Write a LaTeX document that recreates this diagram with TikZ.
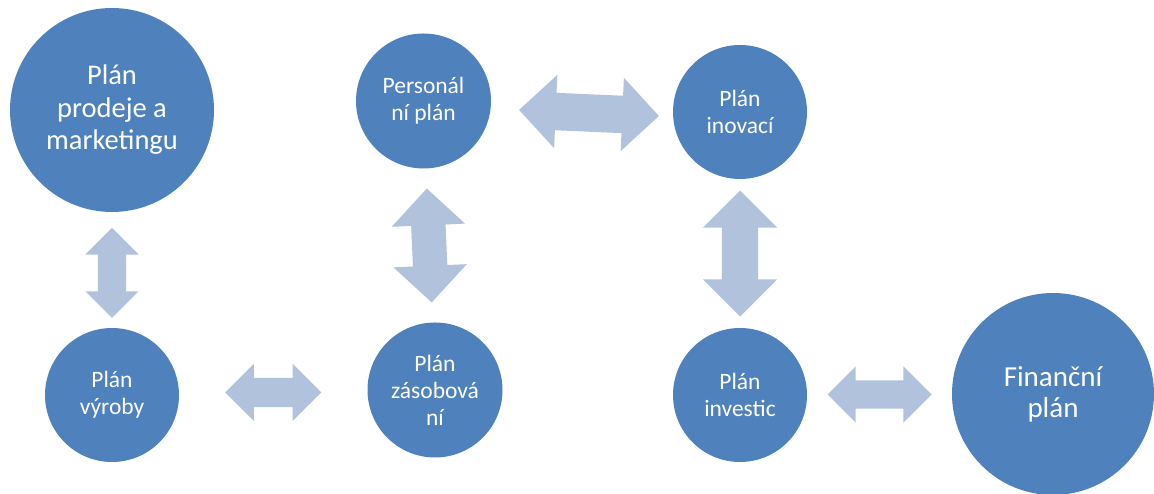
\documentclass[tikz,border=0pt]{standalone}
\usepackage{fontspec}
\setmainfont{Carlito}
\usetikzlibrary{calc,shapes.arrows}

\definecolor{planblue}{RGB}{79,129,189}
\definecolor{arrowblue}{RGB}{177,194,221}

\begin{document}
\begin{tikzpicture}[x=1pt,y=1pt,
  plan/.style={circle,fill=planblue,text=white,inner sep=0pt,align=center,
    font=\fontsize{23.5}{27}\selectfont},
  bigplan/.style={plan,font=\fontsize{28.5}{32.5}\selectfont},
  link/.style 2 args={double arrow,fill=arrowblue,inner xsep=0pt,
    inner ysep=#1,double arrow head extend=#2}]
  \useasboundingbox (0,0) rectangle (1154,494);

  %circles
  \node[bigplan,minimum size=204pt] (prodej) at (112,384) {Plán\\prodeje a\\marketingu};
  \node[plan,minimum size=135pt] (personal) at (423.5,393) {Personál\\ní plán};
  \node[plan,minimum size=134pt] (inovace) at (740,382) {Plán\\inovací};
  \node[plan,minimum size=134pt] (vyroba) at (112,99) {Plán\\výroby};
  \node[plan,minimum size=135pt] (zasoby) at (435,104) {Plán\\zásobová\\ní};
  \node[plan,minimum size=134pt] (investice) at (740,99) {Plán\\investic};
  \node[bigplan,minimum size=202pt,font=\fontsize{29}{31}\selectfont] (finance) at (1053,100) {Finanční\\plán};

  %double arrows between the circles
  \node[link={14pt}{12.5pt},minimum height=90pt,rotate=90]
    (prodej-vyroba) at ($(prodej.south)!0.5!(vyroba.north)+(0,-3)$) {};
  \node[link={14.5pt}{14pt},minimum height=96pt]
    (vyroba-zasoby) at ($(vyroba.east)!0.5!(zasoby.west)$) {};
  \node[link={17pt}{19.5pt},minimum height=114pt,rotate=-87.5]
    (personal-zasoby) at ($(personal.south)!0.5!(zasoby.north)$) {};
  \node[link={18.5pt}{18pt},minimum height=140pt,rotate=-2.5]
    (personal-inovace) at ($(personal.east)!0.5!(inovace.west)+(7,-6.5)$) {};
  \node[link={18pt}{19pt},minimum height=126pt,rotate=90]
    (inovace-investice) at ($(inovace.south)!0.5!(investice.north)$) {};
  \node[link={14pt}{14pt},minimum height=104pt]
    (investice-finance) at ($(investice.east)!0.5!(finance.west)$) {};

\end{tikzpicture}
\end{document}
